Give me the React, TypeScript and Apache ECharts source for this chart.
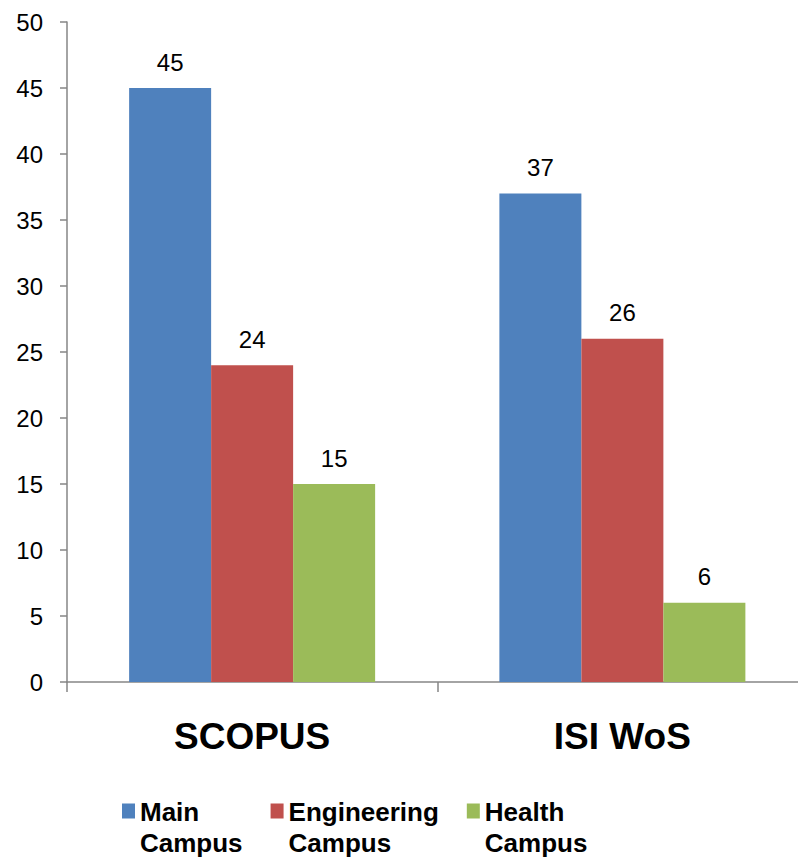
import React, { useEffect, useRef } from "react";
import * as echarts from "echarts";

const categories = ["SCOPUS", "ISI WoS"];
const seriesNames = ["Main\nCampus", "Engineering\nCampus", "Health\nCampus"];
const mainCampus = [45, 37];
const engineeringCampus = [24, 26];
const healthCampus = [15, 6];
const colors = ["#4F81BD", "#C0504D", "#9BBB59"];

const FONT = "'Liberation Sans', Arial, Helvetica, sans-serif";

export default function App() {
  const ref = useRef<HTMLDivElement>(null);
  useEffect(() => {
    if (!ref.current) return;
    const chart = echarts.init(ref.current, undefined, { renderer: "svg" });
    const values = [mainCampus, engineeringCampus, healthCampus];
    const legendIcon =
      "path://M0,0 L0.01,0 M0,62 L0.01,62 M0,7.5 L13,7.5 L13,22.5 L0,22.5 Z";
    chart.setOption({
      animation: false,
      backgroundColor: "#ffffff",
      textStyle: { fontFamily: FONT },
      grid: {
        left: 67,
        top: 22,
        width: 740.5,
        height: 660,
        containLabel: false,
        outerBoundsMode: "none",
      },
      legend: {
        left: 122,
        top: 796,
        padding: 0,
        itemWidth: 13,
        itemHeight: 62,
        itemGap: 28,
        icon: legendIcon,
        textStyle: {
          fontFamily: FONT,
          fontSize: 26,
          fontWeight: "bold",
          color: "#000",
          lineHeight: 31,
        },
        data: seriesNames.map((n) => ({ name: n, icon: legendIcon })),
      },
      xAxis: {
        type: "category",
        data: categories,
        axisLine: { lineStyle: { color: "#868686", width: 1.5 } },
        axisTick: { show: true, length: 10, lineStyle: { color: "#868686", width: 1.5 } },
        axisLabel: {
          margin: 36,
          fontFamily: FONT,
          fontSize: 37,
          fontWeight: "bold",
          color: "#000",
        },
        splitLine: { show: false },
      },
      yAxis: {
        type: "value",
        min: 0,
        max: 50,
        interval: 5,
        axisLine: { show: true, lineStyle: { color: "#868686", width: 1.5 } },
        axisTick: { show: true, length: 7, lineStyle: { color: "#868686", width: 1.5 } },
        axisLabel: { margin: 24, fontFamily: FONT, fontSize: 24, color: "#000" },
        splitLine: { show: false },
      },
      series: seriesNames.map((name, i) => ({
        name,
        type: "bar",
        data: values[i],
        barWidth: 82,
        barGap: "0%",
        itemStyle: { color: colors[i] },
        label: {
          show: true,
          position: "top",
          distance: 14,
          fontFamily: FONT,
          fontSize: 24,
          color: "#000",
        },
      })),
    });
    return () => chart.dispose();
  }, []);
  return (
    <div style={{ width: 798, height: 865, position: "absolute", left: 0, top: 0, overflow: "hidden" }}>
      <div ref={ref} style={{ width: 812, height: 865, position: "absolute", left: 0, top: 0 }} />
    </div>
  );
}
